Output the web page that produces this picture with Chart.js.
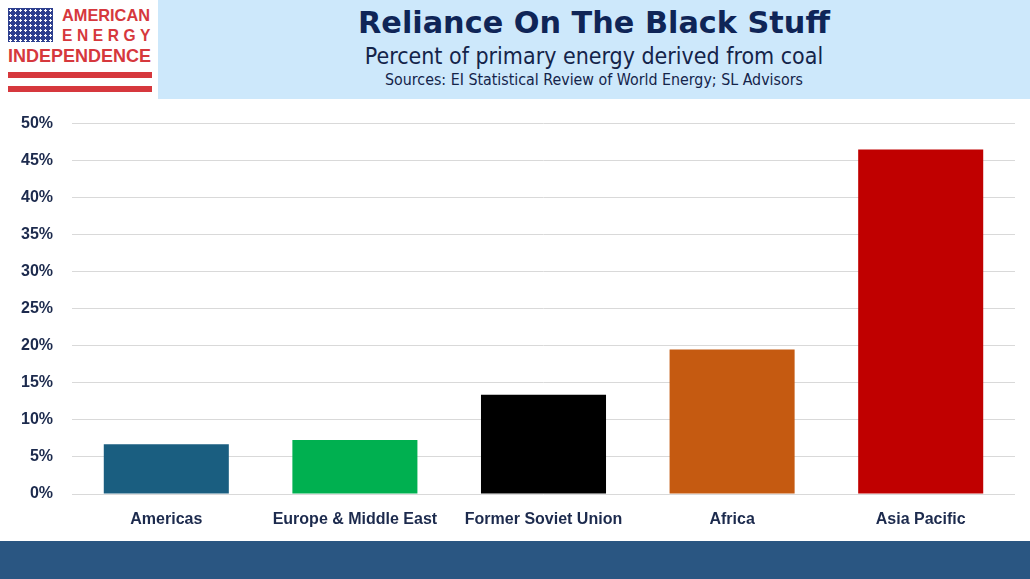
<!DOCTYPE html>
<html>
<head>
<meta charset="utf-8">
<script src="https://cdn.jsdelivr.net/npm/chart.js@4.4.1/dist/chart.umd.min.js"></script>
<style>
  html, body { margin:0; padding:0; background:#ffffff; }
  body { width:1030px; height:579px; position:relative; overflow:hidden; font-family:"Liberation Sans", Arial, sans-serif; }
  #hdr { position:absolute; left:158px; top:0; width:872px; height:99px; background:#cde8fb; }
  .ht { position:absolute; left:0; width:100%; text-align:center; color:#0f2557; white-space:nowrap; line-height:1; }
  #title { top:8px; font-family:"DejaVu Sans", Verdana, sans-serif; font-weight:bold; font-size:30px; }
  #sub { top:45px; font-family:"DejaVu Sans Condensed","DejaVu Sans", sans-serif; font-size:20px; color:#14244a; }
  #src { top:72px; font-family:"DejaVu Sans Condensed","DejaVu Sans", sans-serif; font-size:15px; color:#14244a; }
  .fit { display:inline-block; }
  .sx { display:inline-block; transform-origin:0 0; }
  #logo { position:absolute; left:0; top:0; width:158px; height:99px; }
  #flag { position:absolute; left:8px; top:8px; width:45px; height:34px; background-color:#2e3f8f;
          background-image:radial-gradient(circle, #ffffff 1px, transparent 1.4px);
          background-size:5px 5px; background-position:0 0; }
  .lt { position:absolute; color:#d6383d; font-weight:bold; white-space:nowrap; line-height:1; font-family:"Liberation Sans", Arial, sans-serif; }
  #l1 { left:62px; top:7px; font-size:17px; }
  #l2 { left:62px; top:27px; font-size:17px; letter-spacing:5px; }
  #l3 { left:8px; top:47px; font-size:18.5px; }
  .stripe { position:absolute; left:8px; width:144px; height:6px; background:#d6383d; }
  #band { position:absolute; left:0; top:541px; width:1030px; height:38px; background:#2a5682; }
  #wrap { position:absolute; left:0; top:95px; width:1030px; height:446px; }
</style>
</head>
<body>
<div id="logo">
  <div id="flag"></div>
  <div class="lt" id="l1"><span class="sx" data-w="88">AMERICAN</span></div>
  <div class="lt" id="l2"><span class="sx" data-w="93">ENERGY</span></div>
  <div class="lt" id="l3"><span class="sx" data-w="143">INDEPENDENCE</span></div>
  <div class="stripe" style="top:72px"></div>
  <div class="stripe" style="top:86px"></div>
</div>
<div id="hdr">
  <div class="ht" id="title"><span class="fit" data-w="472">Reliance On The Black Stuff</span></div>
  <div class="ht" id="sub"><span class="fit" data-w="458">Percent of primary energy derived from coal</span></div>
  <div class="ht" id="src"><span class="fit" data-w="418">Sources: EI Statistical Review of World Energy; SL Advisors</span></div>
</div>
<div id="wrap"><canvas id="c"></canvas></div>
<div id="band"></div>
<script>
const categories = ["Americas", "Europe & Middle East", "Former Soviet Union", "Africa", "Asia Pacific"];
const coalShare = [6.7, 7.3, 13.4, 19.5, 46.5];
const barColors = ["#1a5e80", "#00b050", "#000000", "#c55a11", "#c00000"];
const yTicks = [0, 5, 10, 15, 20, 25, 30, 35, 40, 45, 50];

// fit header text widths by font size
document.querySelectorAll('.fit').forEach(function(el){
  const target = parseFloat(el.dataset.w);
  const parent = el.parentElement;
  let fs = parseFloat(getComputedStyle(parent).fontSize);
  for (let i = 0; i < 4; i++) {
    const w = el.getBoundingClientRect().width;
    if (w > 0) { fs = fs * target / w; parent.style.fontSize = fs + 'px'; }
  }
});
// fit logo text widths by horizontal scaling
document.querySelectorAll('.sx').forEach(function(el){
  const target = parseFloat(el.dataset.w);
  const w = el.getBoundingClientRect().width;
  if (w > 0) el.style.transform = 'scaleX(' + (target / w) + ')';
});

new Chart(document.getElementById('c'), {
  type: 'bar',
  data: {
    labels: categories,
    datasets: [{
      data: coalShare,
      backgroundColor: barColors,
      borderWidth: 0,
      categoryPercentage: 1.0,
      barPercentage: 0.663
    }]
  },
  options: {
    responsive: true,
    maintainAspectRatio: false,
    animation: false,
    layout: { padding: { top: 0, right: 15, left: 0, bottom: 0 } },
    plugins: { legend: { display: false }, tooltip: { enabled: false }, title: { display: false } },
    scales: {
      x: {
        grid: { display: false, drawTicks: false },
        border: { display: false },
        ticks: { color: '#1c2a4d', font: { family: "'Liberation Sans', Arial, sans-serif", size: 16, weight: 'bold' }, padding: 16, maxRotation: 0, autoSkip: false },
        afterFit: function(s) { s.height = 47; }
      },
      y: {
        min: 0, max: 50,
        afterBuildTicks: function(s) { s.ticks = yTicks.map(v => ({ value: v })); },
        grid: { color: '#d9d9d9', lineWidth: 1, drawTicks: false },
        border: { display: false },
        ticks: { color: '#1c2a4d', font: { family: "'Liberation Sans', Arial, sans-serif", size: 16, weight: 'bold' }, padding: 19, callback: v => v + '%' },
        afterFit: function(s) { s.width = 72; }
      }
    }
  }
});
</script>
</body>
</html>
